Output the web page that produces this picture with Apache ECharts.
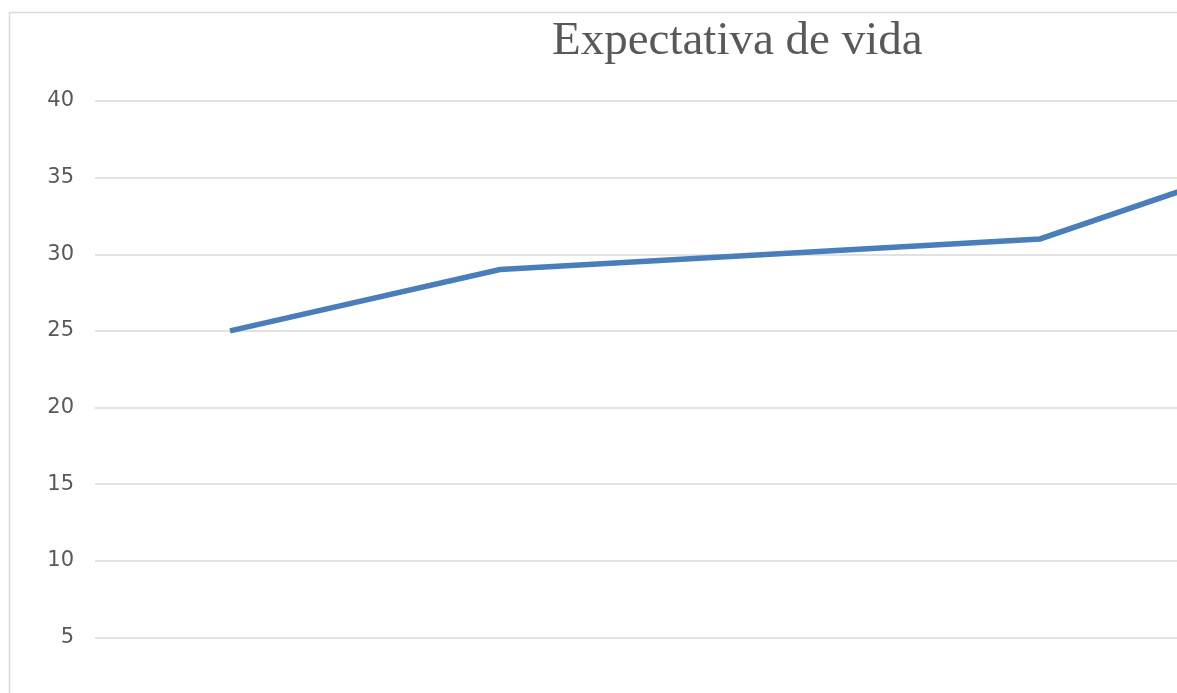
<!DOCTYPE html>
<html>
<head>
<meta charset="utf-8">
<script src="https://cdn.jsdelivr.net/npm/echarts@6/dist/echarts.min.js"></script>
<style>
html,body{margin:0;padding:0;background:#fff;}
#c{width:1177px;height:693px;}
</style>
</head>
<body>
<div id="c"></div>
<script>
const categories = ['P1', 'P2', 'P3', 'P4', 'P5'];
const values = [25, 29, 30, 31, 37];
const yTicks = { min: 0, max: 40, interval: 5 };

const chart = echarts.init(document.getElementById('c'));
chart.setOption({
  backgroundColor: '#ffffff',
  animation: false,
  title: {
    text: 'Expectativa de vida',
    left: 547,
    top: 13,
    textStyle: { fontFamily: 'Liberation Serif', fontSize: 47, fontWeight: 'normal', color: '#595959' }
  },
  graphic: [{
    type: 'rect',
    shape: { x: 9.5, y: 12.5, width: 1400, height: 800 },
    style: { fill: 'none', stroke: '#d9d9d9', lineWidth: 1.5 },
    silent: true, z: -1
  }],
  grid: { left: 95, top: 101, width: 1350, height: 613, outerBoundsMode: 'none', containLabel: false },
  xAxis: {
    type: 'category',
    data: categories,
    boundaryGap: true,
    axisLine: { show: false },
    axisTick: { show: false },
    axisLabel: { show: false }
  },
  yAxis: {
    type: 'value',
    min: yTicks.min, max: yTicks.max, interval: yTicks.interval,
    axisLine: { show: false },
    axisTick: { show: false },
    axisLabel: { margin: 21, fontFamily: 'DejaVu Sans', fontSize: 21, color: '#595959' },
    splitLine: { lineStyle: { color: '#d9d9d9', width: 1.5 } }
  },
  series: [{
    type: 'line',
    data: values,
    symbol: 'none',
    lineStyle: { color: '#4a7ebb', width: 5.5, cap: 'butt', join: 'miter' }
  }]
});
</script>
</body>
</html>
